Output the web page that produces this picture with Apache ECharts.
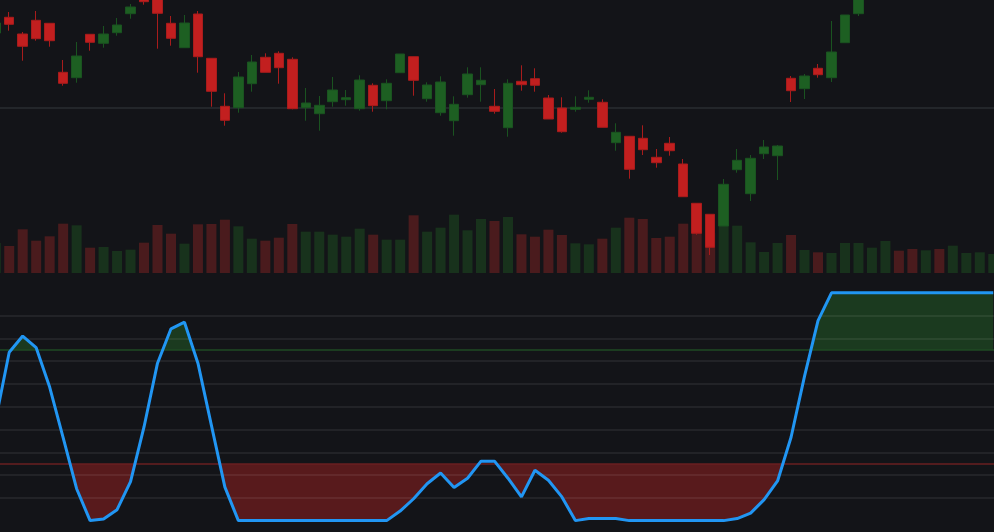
<!DOCTYPE html>
<html lang="en">
<head>
  <meta charset="UTF-8">
  <title>candles with stoch rsi</title>
  <style>
    html, body { margin: 0; padding: 0; background: #131418; overflow: hidden; }
    /* chart is a bit wider than the window so the edge candles are cut like a scrolled view */
    #chart { position: absolute; left: -11px; top: 0; width: 1011px; height: 532px; }
  </style>
</head>
<body>
  <div id="chart"></div>
  <script src="https://cdn.jsdelivr.net/npm/echarts@6/dist/echarts.min.js"></script>
  <script>
    // trading days (hidden axis)
    var dates = [
      '01-02', '01-03', '01-04', '01-05', '01-08', '01-09', '01-10', '01-11', '01-12', '01-15',
      '01-16', '01-17', '01-18', '01-19', '01-22', '01-23', '01-24', '01-25', '01-26', '01-29',
      '01-30', '01-31', '02-01', '02-02', '02-05', '02-06', '02-07', '02-08', '02-09', '02-12',
      '02-13', '02-14', '02-15', '02-16', '02-19', '02-20', '02-21', '02-22', '02-23', '02-26',
      '02-27', '02-28', '02-29', '03-01', '03-04', '03-05', '03-06', '03-07', '03-08', '03-11',
      '03-12', '03-13', '03-14', '03-15', '03-18', '03-19', '03-20', '03-21', '03-22', '03-25',
      '03-26', '03-27', '03-28', '03-29', '04-01', '04-02', '04-03', '04-04', '04-05', '04-08',
      '04-09', '04-10', '04-11', '04-12', '04-15'
    ]

    // [open, close, low, high]
    var candles = [
      [117.5, 118.5, 117.2, 118.8],
      [119.07, 118.37, 117.73, 119.6],
      [117.4, 116.17, 114.73, 117.6],
      [118.77, 116.93, 116.73, 119.7],
      [118.47, 116.73, 116.13, 118.47],
      [113.57, 112.47, 112.23, 114.8],
      [113.03, 115.2, 112.53, 116.6],
      [117.37, 116.57, 115.73, 117.37],
      [116.47, 117.4, 116.03, 118.2],
      [117.53, 118.3, 117.23, 119.0],
      [119.43, 120.1, 118.93, 120.4],
      [121.1, 120.63, 120.33, 121.4],
      [121.0, 119.47, 115.93, 121.2],
      [118.47, 116.97, 116.23, 119.2],
      [116.03, 118.5, 116.03, 119.3],
      [119.4, 115.13, 113.53, 119.7],
      [114.97, 111.67, 110.13, 114.97],
      [110.17, 108.77, 108.23, 111.47],
      [110.03, 113.1, 109.53, 113.6],
      [112.43, 114.6, 111.63, 115.3],
      [115.07, 113.57, 113.57, 115.47],
      [115.47, 114.03, 112.43, 115.67],
      [114.87, 109.93, 109.87, 115.07],
      [110.03, 110.5, 108.73, 112.0],
      [109.43, 110.27, 107.73, 111.2],
      [110.63, 111.8, 110.13, 113.1],
      [110.83, 111.03, 110.23, 111.8],
      [109.93, 112.8, 109.73, 113.27],
      [112.27, 110.23, 109.63, 112.47],
      [110.73, 112.47, 109.87, 112.87],
      [113.53, 115.4, 113.53, 115.4],
      [115.13, 112.77, 111.23, 115.13],
      [110.93, 112.3, 110.63, 112.57],
      [109.53, 112.6, 109.23, 113.17],
      [108.73, 110.37, 107.23, 111.17],
      [111.33, 113.4, 111.03, 114.07],
      [112.33, 112.77, 110.63, 114.07],
      [110.17, 109.67, 109.43, 111.9],
      [108.03, 112.47, 107.13, 112.87],
      [112.67, 112.33, 111.73, 114.27],
      [112.93, 112.27, 111.63, 113.97],
      [111.0, 108.9, 108.9, 111.3],
      [110.0, 107.63, 107.53, 111.07],
      [109.87, 110.07, 109.63, 111.17],
      [110.87, 111.07, 110.53, 111.77],
      [110.57, 108.07, 108.07, 110.87],
      [106.53, 107.57, 105.73, 108.47],
      [107.17, 103.87, 102.93, 107.17],
      [106.97, 105.83, 105.3, 108.27],
      [105.07, 104.53, 104.03, 105.9],
      [106.47, 105.73, 105.23, 107.1],
      [104.4, 101.13, 101.13, 104.9],
      [100.47, 97.47, 97.33, 100.47],
      [99.37, 96.07, 95.3, 99.37],
      [98.2, 102.37, 98.2, 102.9],
      [103.83, 104.77, 103.53, 105.9],
      [101.43, 104.97, 100.7, 105.3],
      [105.43, 106.1, 104.9, 106.8],
      [105.23, 106.2, 102.8, 106.3],
      [112.97, 111.73, 110.6, 113.2],
      [111.93, 113.2, 110.9, 113.4],
      [113.97, 113.33, 113.03, 114.4],
      [113.03, 115.6, 112.6, 118.7],
      [116.53, 119.3, 116.53, 119.3],
      [119.43, 121.8, 119.2, 122.0],
      [121.9, 123.4, 121.5, 123.8],
      [123.2, 125.0, 122.9, 125.6],
      [125.1, 124.3, 123.9, 125.7],
      [124.4, 123.6, 123.1, 124.9],
      [123.7, 124.8, 123.4, 125.2],
      [124.9, 124.2, 123.8, 125.3],
      [124.3, 125.6, 124.0, 126.0],
      [125.5, 126.4, 125.2, 126.8],
      [126.3, 127.1, 126.0, 127.5],
      [127.0, 127.9, 126.7, 128.3]
    ]

    // volume, 10k shares
    var volumes = [
      30, 27, 43.7, 32.3, 36.7, 49.3, 47.7, 25.3, 26, 22, 23.3,
      30.3, 48, 39.3, 29.3, 48.7, 49, 53.3, 46.7, 34.3, 32.3,
      35.3, 49, 41.3, 41.3, 38.3, 36.3, 44.3, 38.3, 33.3, 33.3,
      57.7, 41.3, 45.3, 58.3, 42.7, 54, 52, 56, 38.7, 36.3,
      43.3, 38, 29.7, 28.7, 34.3, 45.3, 55.3, 54, 35, 36.3,
      49.3, 46, 40, 47.3, 47.3, 30.7, 21, 30, 38, 23,
      20.7, 20, 30, 30, 25.3, 32, 22.3, 24, 22.7, 24,
      27.3, 20, 20.7, 19
    ]

    // stochastic rsi (0-100)
    var stochRsi = [
      44.4, 73.9, 81.0, 75.9, 58.6, 36.4, 14.0, 0, 0.7, 4.8, 17.1, 41.1, 69.1, 84.2, 87.1, 69.1, 41.8, 14.7,
      0, 0, 0, 0, 0, 0, 0, 0, 0, 0, 0, 0,
      4.2, 9.6, 16.2, 20.9, 14.5, 18.6, 26.1, 26.1, 18.6, 10.4, 22.1, 17.7, 10.4, 0, 0.9, 0.9, 0.9,
      0, 0, 0, 0, 0, 0, 0, 0,
      0.9, 3.3, 9.2, 17.4, 36.6, 63.4, 87.8,
      100, 100, 100, 100, 100, 100, 100, 100, 100, 100, 100, 100, 100
    ]

    var overbought = 75
    var oversold = 25
    var oscGrid = [10, 20, 30, 40, 50, 60, 70, 80, 90]
    var priceLine = 110

    var upColor = '#1d5f22'
    var downColor = '#c21f1f'

    var volData = volumes.map(function (v, i) {
      var up = candles[i][1] >= candles[i][0]
      return { value: v, itemStyle: { color: up ? '#18321c' : '#4a1b1d' } }
    })

    var oscLines = oscGrid.map(function (v) {
      return { yAxis: v }
    })
    oscLines.push({ yAxis: overbought, lineStyle: { color: '#1f4a23', width: 1.5, type: 'solid' } })
    oscLines.push({ yAxis: oversold, lineStyle: { color: '#6a1f20', width: 1.5, type: 'solid' } })

    var option = {
      backgroundColor: '#131418',
      animation: false,
      grid: [
        { left: 0, right: 0, top: 0, height: 273 },
        { left: 0, right: 0, top: 200, height: 73 },
        { left: 0, right: 0, top: 270, height: 262 }
      ],
      xAxis: [0, 1, 2].map(function (i) {
        return { type: 'category', gridIndex: i, data: dates, boundaryGap: true, show: false }
      }),
      yAxis: [
        { gridIndex: 0, type: 'value', min: 93.5, max: 120.8, show: false, splitLine: { show: false } },
        { gridIndex: 1, type: 'value', min: 0, max: 73, show: false, splitLine: { show: false } },
        { gridIndex: 2, type: 'value', min: -5, max: 110, show: false, splitLine: { show: false } }
      ],
      visualMap: {
        type: 'piecewise',
        show: false,
        seriesIndex: 2,
        pieces: [
          { lt: oversold, color: '#581a1c' },
          { gte: oversold, lte: overbought, color: 'rgba(0,0,0,0)' },
          { gt: overbought, color: '#1b3a1f' }
        ]
      },
      series: [
        {
          name: 'Volume',
          type: 'bar',
          xAxisIndex: 1,
          yAxisIndex: 1,
          barWidth: 10,
          z: 1,
          data: volData
        },
        {
          name: 'Price',
          type: 'candlestick',
          xAxisIndex: 0,
          yAxisIndex: 0,
          barWidth: 10,
          z: 3,
          itemStyle: {
            color: upColor,
            color0: downColor,
            borderColor: '#1a5320',
            borderColor0: '#a81c1c',
            borderWidth: 1
          },
          markLine: {
            silent: true,
            z: 1,
            symbol: ['none', 'none'],
            label: { show: false },
            lineStyle: { color: '#2a2c30', width: 1.5, type: 'solid' },
            data: [{ yAxis: priceLine }]
          },
          data: candles
        },
        {
          name: 'zones',
          type: 'line',
          xAxisIndex: 2,
          yAxisIndex: 2,
          showSymbol: false,
          z: 1,
          lineStyle: { width: 0 },
          areaStyle: { origin: 50, opacity: 1 },
          data: stochRsi
        },
        {
          name: 'Stoch RSI',
          type: 'line',
          xAxisIndex: 2,
          yAxisIndex: 2,
          showSymbol: false,
          z: 10,
          lineStyle: { color: '#2196f3', width: 3 },
          itemStyle: { color: '#2196f3' },
          markLine: {
            silent: true,
            symbol: ['none', 'none'],
            label: { show: false },
            lineStyle: { color: 'rgba(255,255,255,0.09)', width: 1.5, type: 'solid' },
            data: oscLines
          },
          data: stochRsi
        }
      ]
    }

    var chart = echarts.init(document.getElementById('chart'))
    chart.setOption(option)
  </script>
</body>
</html>
